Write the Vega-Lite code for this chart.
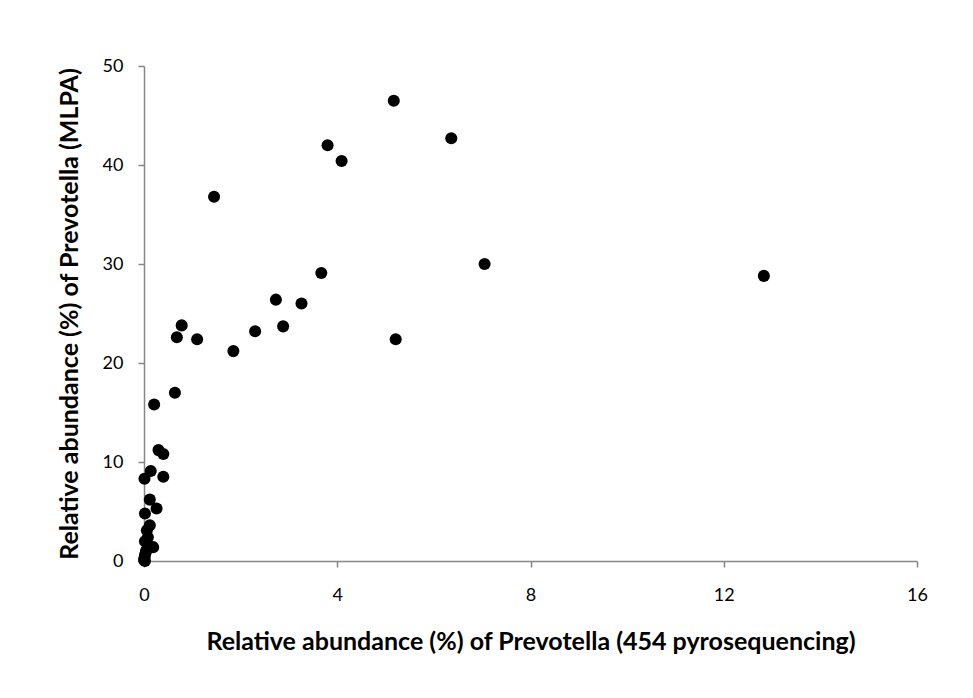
{
  "$schema": "https://vega.github.io/schema/vega-lite/v6.json",
  "width": 773,
  "height": 495,
  "autosize": "none",
  "padding": {"left": 144, "top": 66, "right": 56, "bottom": 137},
  "background": "white",
  "config": {"view": {"stroke": null}, "font": "Lato"},
  "data": {"values": [
    {"pyro": 1.45, "mlpa": 36.8},
    {"pyro": 5.17, "mlpa": 46.5},
    {"pyro": 3.80, "mlpa": 42.0},
    {"pyro": 4.09, "mlpa": 40.4},
    {"pyro": 6.36, "mlpa": 42.7},
    {"pyro": 7.05, "mlpa": 30.0},
    {"pyro": 5.21, "mlpa": 22.4},
    {"pyro": 12.83, "mlpa": 28.8},
    {"pyro": 3.67, "mlpa": 29.1},
    {"pyro": 2.73, "mlpa": 26.4},
    {"pyro": 3.26, "mlpa": 26.0},
    {"pyro": 2.88, "mlpa": 23.7},
    {"pyro": 2.30, "mlpa": 23.2},
    {"pyro": 1.85, "mlpa": 21.2},
    {"pyro": 0.78, "mlpa": 23.8},
    {"pyro": 0.68, "mlpa": 22.6},
    {"pyro": 1.10, "mlpa": 22.4},
    {"pyro": 0.64, "mlpa": 17.0},
    {"pyro": 0.21, "mlpa": 15.8},
    {"pyro": 0.30, "mlpa": 11.2},
    {"pyro": 0.40, "mlpa": 10.8},
    {"pyro": 0.14, "mlpa": 9.1},
    {"pyro": 0.01, "mlpa": 8.3},
    {"pyro": 0.40, "mlpa": 8.5},
    {"pyro": 0.12, "mlpa": 6.2},
    {"pyro": 0.26, "mlpa": 5.3},
    {"pyro": 0.02, "mlpa": 4.8},
    {"pyro": 0.12, "mlpa": 3.6},
    {"pyro": 0.06, "mlpa": 3.1},
    {"pyro": 0.02, "mlpa": 2.0},
    {"pyro": 0.19, "mlpa": 1.4},
    {"pyro": 0.05, "mlpa": 1.1},
    {"pyro": 0.02, "mlpa": 0.6},
    {"pyro": 0.02, "mlpa": 0.0},
    {"pyro": 0.01, "mlpa": 0.3},
    {"pyro": 0.04, "mlpa": 0.9},
    {"pyro": 0.08, "mlpa": 2.4},
    {"pyro": 0.0, "mlpa": 0.1}
  ]},
  "mark": {"type": "circle", "size": 145, "color": "black", "opacity": 1},
  "encoding": {
    "x": {
      "field": "pyro", "type": "quantitative",
      "scale": {"domain": [0, 16], "nice": false, "zero": true},
      "axis": {
        "values": [0, 4, 8, 12, 16], "grid": false,
        "title": "Relative abundance (%) of Prevotella (454 pyrosequencing)",
        "domainColor": "#868686", "domainWidth": 1.5,
        "tickColor": "#868686", "tickWidth": 1.5, "tickSize": 6,
        "labelFontSize": 18, "labelColor": "black", "labelPadding": 19, "labelFlush": false,
        "titleFontSize": 25, "titleFontWeight": "bold", "titleColor": "black", "titlePadding": 25
      }
    },
    "y": {
      "field": "mlpa", "type": "quantitative",
      "scale": {"domain": [0, 50], "nice": false},
      "axis": {
        "values": [0, 10, 20, 30, 40, 50], "grid": false,
        "title": "Relative abundance (%) of Prevotella (MLPA)",
        "domainColor": "#868686", "domainWidth": 1.5,
        "tickColor": "#868686", "tickWidth": 1.5, "tickSize": 6,
        "labelFontSize": 18, "labelColor": "black", "labelPadding": 15, "labelFlush": false,
        "titleFontSize": 25, "titleFontWeight": "bold", "titleColor": "black", "titlePadding": 20
      }
    }
  }
}
